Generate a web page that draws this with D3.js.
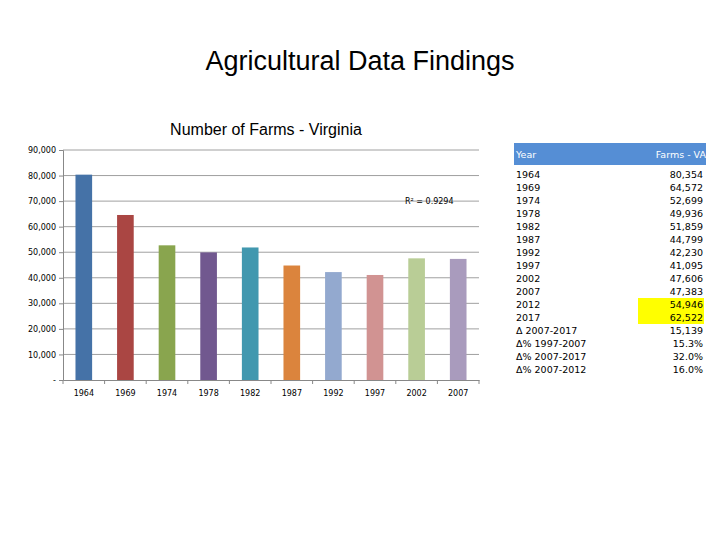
<!DOCTYPE html>
<html><head><meta charset="utf-8">
<script src="https://cdn.jsdelivr.net/npm/d3@7"></script>
<style>body{margin:0;background:#fff}</style>
</head><body>
<svg id="c" width="720" height="540"></svg>
<script>
var years = ["1964","1969","1974","1978","1982","1987","1992","1997","2002","2007"];
var farms = [80354,64572,52699,49936,51859,44799,42230,41095,47606,47383];
var colors = ["#4572a7","#aa4643","#89a54e","#71588f","#4198af","#db843d","#93a9cf","#d19392","#b9cd96","#a99bbd"];
var tableRows = ["1964","1969","1974","1978","1982","1987","1992","1997","2002","2007","2012","2017","Δ 2007-2017","Δ% 1997-2007","Δ% 2007-2017","Δ% 2007-2012"];
var tableVals = ["80,354","64,572","52,699","49,936","51,859","44,799","42,230","41,095","47,606","47,383","54,946","62,522","15,139","15.3%","32.0%","16.0%"];
var highlighted = ["2012","2017"];
var yTicks = d3.range(0, 90001, 10000);

var svg = d3.select("#c");
var font = "Liberation Sans, Arial, sans-serif";

svg.append("text").attr("x",360).attr("y",70).attr("text-anchor","middle")
	.attr("font-family",font).attr("font-size",27).text("Agricultural Data Findings");
svg.append("text").attr("x",266).attr("y",135).attr("text-anchor","middle")
	.attr("font-family",font).attr("font-size",16).text("Number of Farms - Virginia");

var x = d3.scaleBand().domain(years).range([63,479]).paddingInner(0.6).paddingOuter(0.3);
var y = d3.scaleLinear().domain([0,90000]).range([380,150]);

//gridlines
svg.append("g").selectAll("line").data(yTicks.slice(1)).enter().append("line")
	.attr("x1",63).attr("x2",479).attr("y1",function(d){return y(d);}).attr("y2",function(d){return y(d);})
	.attr("stroke","#888").attr("stroke-width",0.8);

var yAxis = svg.append("g").attr("transform","translate(63,0)")
	.call(d3.axisLeft(y).tickValues(yTicks).tickSize(4)
		.tickFormat(function(d){return d==0 ? "-" : d3.format(",")(d);}));
yAxis.selectAll("text").attr("font-family","DejaVu Sans").attr("font-size",8).attr("fill","#000");
yAxis.selectAll("line,path").attr("stroke","#888");

svg.selectAll(".bar").data(farms).enter().append("rect").attr("class","bar")
	.attr("x",function(d,i){return x(years[i]);}).attr("width",x.bandwidth())
	.attr("y",function(d){return y(d);}).attr("height",function(d){return y(0)-y(d);})
	.attr("fill",function(d,i){return colors[i];});

var xAxis = svg.append("g").attr("transform","translate(0,380)")
	.call(d3.axisBottom(x).tickSize(0).tickPadding(10));
xAxis.selectAll("text").attr("font-family","DejaVu Sans").attr("font-size",8).attr("fill","#000");
xAxis.select("path").attr("stroke","#888");
var step = x.step();
xAxis.selectAll(".sep").data(d3.range(years.length+1)).enter().append("line")
	.attr("x1",function(i){return 63+i*step;}).attr("x2",function(i){return 63+i*step;})
	.attr("y1",0).attr("y2",4).attr("stroke","#888");

svg.append("text").attr("x",405).attr("y",204).attr("font-family","DejaVu Sans").attr("font-size",8)
	.text("R² = 0.9294");

//table
svg.append("rect").attr("x",514).attr("y",143).attr("width",192).attr("height",22).attr("fill","#558ed5");
svg.append("text").attr("x",516).attr("y",158).attr("fill","#fff").attr("font-family","DejaVu Sans").attr("font-size",9.5).text("Year");
svg.append("text").attr("x",706).attr("y",158).attr("text-anchor","end").attr("fill","#fff").attr("font-family","DejaVu Sans").attr("font-size",9.5).text("Farms - VA");
var rowY = d3.scaleLinear().domain([0,15]).range([178,373]);
var rows = svg.append("g").selectAll("g").data(tableRows).enter().append("g");
rows.filter(function(d){return highlighted.indexOf(d)!=-1;}).append("rect")
	.attr("x",638).attr("width",66).attr("y",function(d){return rowY(tableRows.indexOf(d))-10;}).attr("height",13)
	.attr("fill","#ffff00");
rows.append("text").attr("x",516).attr("y",function(d,i){return rowY(i);})
	.attr("font-family","DejaVu Sans").attr("font-size",9.5).text(function(d){return d;});
rows.append("text").attr("x",703).attr("y",function(d,i){return rowY(i);}).attr("text-anchor","end")
	.attr("font-family","DejaVu Sans").attr("font-size",9.5).text(function(d,i){return tableVals[i];});
</script>
</body></html>
